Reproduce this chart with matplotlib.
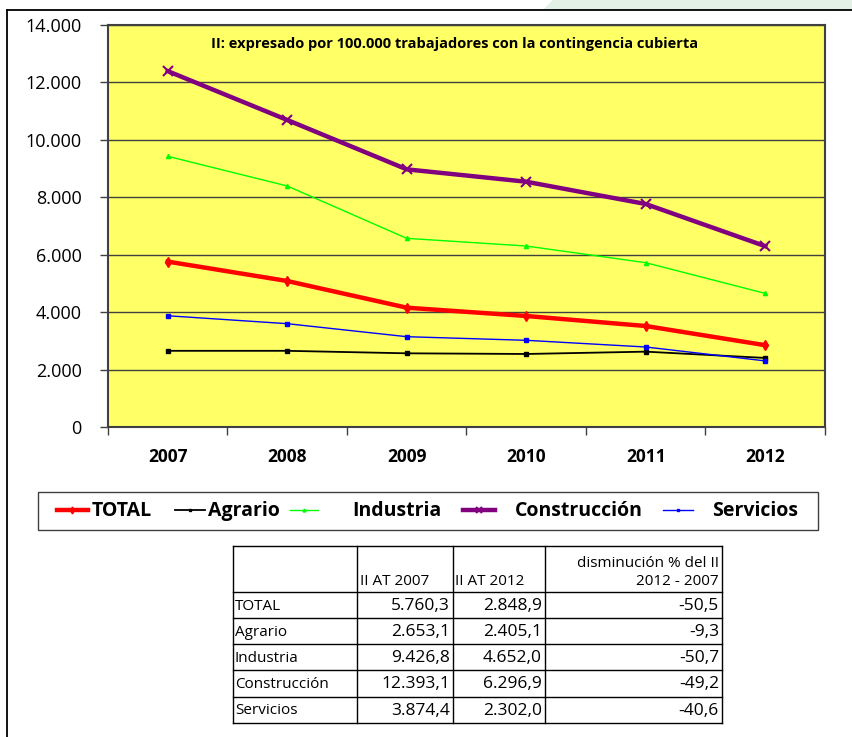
import matplotlib
matplotlib.use("Agg")
import matplotlib.pyplot as plt
from matplotlib.patches import Polygon, Rectangle

plt.rcParams['font.family'] = ['Open Sans', 'DejaVu Sans']

years = ['2007', '2008', '2009', '2010', '2011', '2012']
total = [5760.3, 5084, 4155, 3866, 3517, 2848.9]
agrario = [2653.1, 2653, 2566, 2543, 2624, 2405.1]
industria = [9426.8, 8393, 6570, 6303, 5722, 4652.0]
construccion = [12393.1, 10692, 8973, 8542, 7766, 6296.9]
servicios = [3874.4, 3598, 3145, 3019, 2786, 2302.0]
yticks = [0, 2000, 4000, 6000, 8000, 10000, 12000, 14000]
ytick_labels = ['0', '2.000', '4.000', '6.000', '8.000', '10.000', '12.000', '14.000']
title = 'II: expresado por 100.000 trabajadores con la contingencia cubierta'

table_header = ['', 'II AT 2007', 'II AT 2012', 'disminución % del II\n2012 - 2007']
table_rows = ['TOTAL', 'Agrario', 'Industria', 'Construcción', 'Servicios']
table_2007 = ['5.760,3', '2.653,1', '9.426,8', '12.393,1', '3.874,4']
table_2012 = ['2.848,9', '2.405,1', '4.652,0', '6.296,9', '2.302,0']
table_pct = ['-50,5', '-9,3', '-50,7', '-49,2', '-40,6']

W, H = 853, 737
fig = plt.figure(figsize=(W / 100, H / 100), dpi=100)
fig.patch.set_facecolor('white')

# background overlay in pixel coordinates
bg = fig.add_axes([0, 0, 1, 1], zorder=0)
bg.set_xlim(0, W)
bg.set_ylim(H, 0)
bg.axis('off')
bg.add_patch(Polygon([[553, 0], [W, 0], [W, 10], [543, 10]], closed=True,
                     facecolor='#e2f0e6', edgecolor='none'))
bg.plot([7, W], [10, 10], color='black', lw=1.3)
bg.plot([7, 7], [10, H], color='black', lw=1.3)

# main chart
ax = fig.add_axes([108 / W, 1 - 427 / H, 717 / W, 402 / H], zorder=2)
ax.set_facecolor('#ffff66')
x = list(range(len(years)))

styles = {
    'TOTAL': dict(color='#ff0000', lw=3.2, marker='d', ms=5, zorder=4),
    'Agrario': dict(color='black', lw=1.3, marker='s', ms=3, zorder=3),
    'Industria': dict(color='#00ff00', lw=1.0, marker='^', ms=3, zorder=3),
    'Construcción': dict(color='#800080', lw=3.2, marker='x', ms=7, mew=1.5, zorder=4),
    'Servicios': dict(color='#0000ff', lw=1.0, marker='s', ms=2.5, zorder=3),
}
series = {'TOTAL': total, 'Agrario': agrario, 'Industria': industria,
          'Construcción': construccion, 'Servicios': servicios}
for name in ['Agrario', 'Servicios', 'Industria', 'TOTAL', 'Construcción']:
    ax.plot(x, series[name], label=name, **styles[name])

ax.set_xlim(-0.5, len(years) - 0.5)
ax.set_ylim(0, 14000)
ax.set_yticks(yticks)
ax.set_yticklabels(ytick_labels, fontsize=13)
ax.set_xticks(x)
ax.set_xticklabels(years, fontsize=12.5, fontweight='bold')
ax.set_xticks([i - 0.5 for i in range(len(years) + 1)], minor=True)
ax.tick_params(axis='x', which='major', length=0, pad=15)
ax.tick_params(axis='x', which='minor', length=6, color='#404040', width=1)
ax.tick_params(axis='y', length=6, color='#404040', width=1, pad=13)
ax.grid(axis='y', color='#404040', lw=1.0)
ax.set_axisbelow(True)
for s in ax.spines.values():
    s.set_color('#404040')
    s.set_linewidth(1.5)
ax.text(0.484, 0.953, title, transform=ax.transAxes, ha='center', va='center',
        fontsize=10.5, fontweight='bold')

# overlay for legend and table (pixel coordinates)
tb = fig.add_axes([0, 0, 1, 1], zorder=3)
tb.set_xlim(0, W)
tb.set_ylim(H, 0)
tb.axis('off')

# legend box
tb.add_patch(Rectangle((38, 492), 818 - 38, 38, facecolor='white',
                       edgecolor='#404040', lw=1.0))
leg_order = ['TOTAL', 'Agrario', 'Industria', 'Construcción', 'Servicios']
leg_handle = [(57, 88), (175, 205), (290, 318), (463, 495), (663, 693)]
leg_text = [92, 208, 352, 515, 712]
for name, (x0, x1), xt in zip(leg_order, leg_handle, leg_text):
    st = styles[name]
    tb.plot([x0, x1], [510, 510], color=st['color'], lw=st['lw'], zorder=st['zorder'])
    tb.plot([(x0 + x1) / 2], [510], color=st['color'], marker=st['marker'],
            ms=st['ms'] * 0.7, mew=st.get('mew', 1), zorder=st['zorder'])
    tb.text(xt, 511, name, ha='left', va='center', fontsize=14, fontweight='bold')

# table
xs = [233, 357, 453, 545, 722]
ys = [546, 592, 618, 644, 670, 697, 723]
for xv in xs:
    tb.plot([xv, xv], [ys[0], ys[-1]], color='black', lw=1)
for yv in ys:
    tb.plot([xs[0], xs[-1]], [yv, yv], color='black', lw=1)
tb.text(xs[1] + 3, ys[1] - 3, table_header[1], ha='left', va='bottom', fontsize=11)
tb.text(xs[2] + 2, ys[1] - 3, table_header[2], ha='left', va='bottom', fontsize=11)
tb.text(xs[4] - 3, ys[1] - 3, table_header[3], ha='right', va='bottom', fontsize=11,
        multialignment='right', linespacing=1.3)
for i, name in enumerate(table_rows):
    yc = (ys[i + 1] + ys[i + 2]) / 2 + 1
    tb.text(xs[0] + 2, yc, name, ha='left', va='center', fontsize=11)
    tb.text(xs[2] - 3, yc, table_2007[i], ha='right', va='center', fontsize=12.5)
    tb.text(xs[3] - 3, yc, table_2012[i], ha='right', va='center', fontsize=12.5)
    tb.text(xs[4] - 3, yc, table_pct[i], ha='right', va='center', fontsize=12.5)

fig.savefig('out.png', dpi=100)
